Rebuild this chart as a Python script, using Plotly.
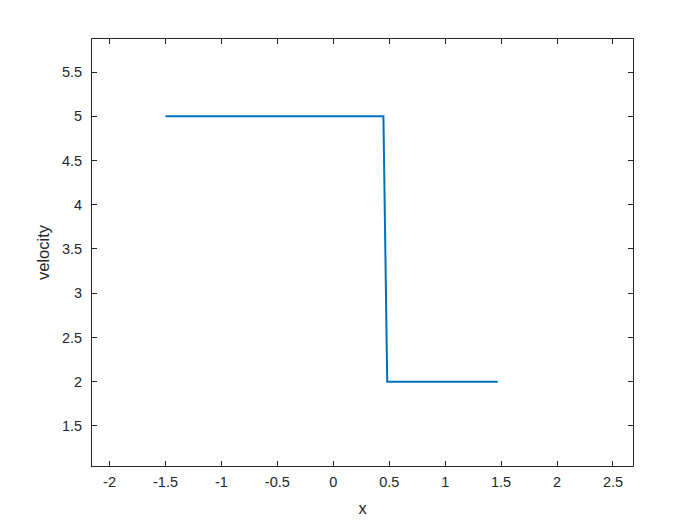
import plotly.graph_objects as go

# step profile of velocity against x
x = [-1.5, 0.448, 0.482, 1.47]
velocity = [5, 5, 2, 2]

x_ticks = [-2, -1.5, -1, -0.5, 0, 0.5, 1, 1.5, 2, 2.5]
x_labels = ["-2", "-1.5", "-1", "-0.5", "0", "0.5", "1", "1.5", "2", "2.5"]
y_ticks = [1.5, 2, 2.5, 3, 3.5, 4, 4.5, 5, 5.5]
y_labels = ["1.5", "2", "2.5", "3", "3.5", "4", "4.5", "5", "5.5"]

fig = go.Figure()
fig.add_trace(go.Scatter(x=x, y=velocity, mode="lines",
                         line=dict(color="#0072BD", width=2)))

axis_style = dict(showline=True, linecolor="#262626", linewidth=1, mirror="ticks",
                  ticks="inside", ticklen=5, tickcolor="#262626", tickwidth=1,
                  showgrid=False, zeroline=False,
                  tickfont=dict(family="Liberation Sans, Arial", size=14.5, color="#262626"),
                  title_font=dict(family="Liberation Sans, Arial", size=16.5, color="#262626"))

fig.update_xaxes(range=[-2.157, 2.679], tickvals=x_ticks, ticktext=x_labels,
                 title_text="x", title_standoff=13, ticklabelstandoff=3, **axis_style)
fig.update_yaxes(range=[1.047, 5.873], tickvals=y_ticks, ticktext=y_labels,
                 title_text="velocity", title_standoff=8, ticklabelstandoff=6, **axis_style)

# the page body adds an 8px offset, so the figure is a bit smaller than the window
fig.update_layout(width=692, height=517, showlegend=False,
                  plot_bgcolor="white", paper_bgcolor="white",
                  margin=dict(l=84, r=67, t=31, b=59, autoexpand=False))

fig.write_html("out.html")
